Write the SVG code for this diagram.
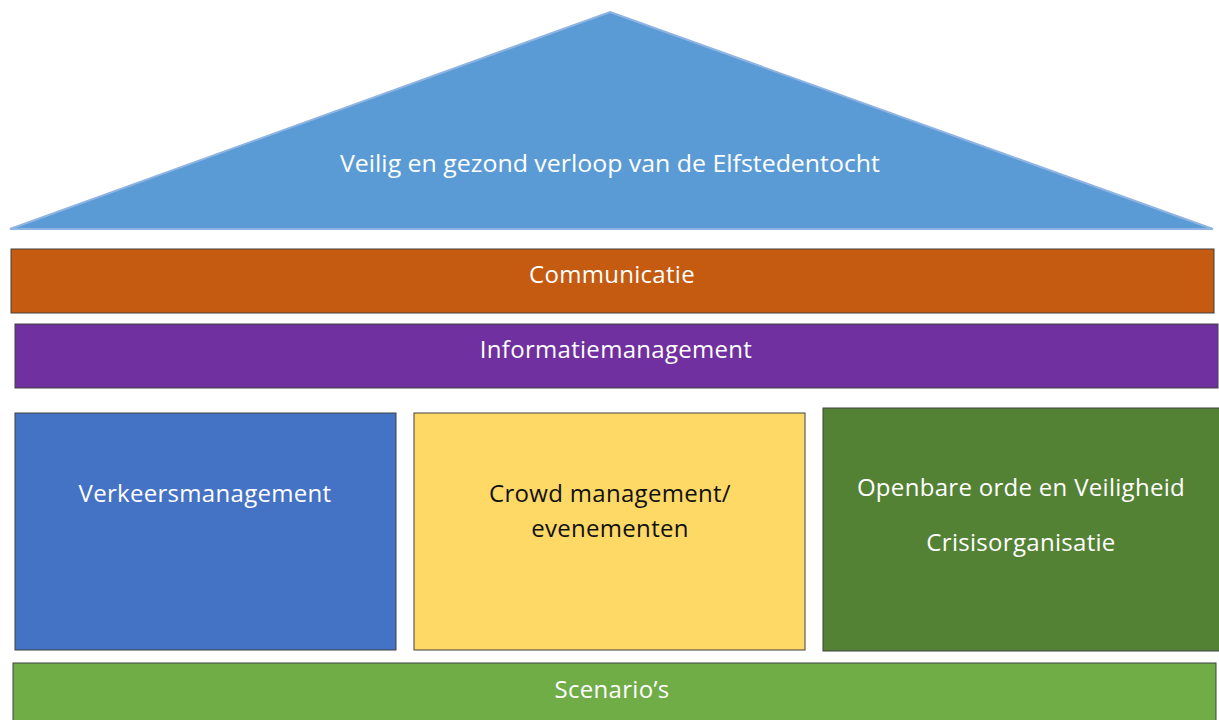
<svg xmlns="http://www.w3.org/2000/svg" width="1219" height="720" viewBox="0 0 1219 720">
<style>
  .box { stroke: #404040; stroke-width: 1; }
  .t { font-family: "Open Sans", "Liberation Sans", sans-serif; font-size: 24px; letter-spacing: 0.3px; text-anchor: middle; fill: #ffffff; }
  .dark { fill: #111111; }
</style>
<rect width="1219" height="720" fill="#ffffff"/>
<g id="roof">
  <polygon points="610,12 1213,229 10,229" fill="#5b9bd5" stroke="#8fb4e3" stroke-width="2"/>
  <text class="t" x="610" y="172" style="font-size:23px;letter-spacing:0" textLength="540" lengthAdjust="spacingAndGlyphs">Veilig en gezond verloop van de Elfstedentocht</text>
</g>
<g id="communicatie">
  <rect class="box" x="11" y="249" width="1203" height="64" fill="#c55a11"/>
  <text class="t" x="612" y="283">Communicatie</text>
</g>
<g id="informatiemanagement">
  <rect class="box" x="15" y="324" width="1203" height="64" fill="#7030a0"/>
  <text class="t" x="616" y="358">Informatiemanagement</text>
</g>
<g id="verkeersmanagement">
  <rect class="box" x="15" y="413" width="381" height="237" fill="#4472c4"/>
  <text class="t" x="205" y="502">Verkeersmanagement</text>
</g>
<g id="crowd">
  <rect class="box" x="414" y="413" width="391" height="237" fill="#ffd966"/>
  <text class="t dark" x="610" y="502">Crowd management/</text>
  <text class="t dark" x="610" y="537">evenementen</text>
</g>
<g id="openbare-orde">
  <rect class="box" x="823" y="408" width="400" height="243" fill="#548235"/>
  <text class="t" x="1021" y="496">Openbare orde en Veiligheid</text>
  <text class="t" x="1021" y="551">Crisisorganisatie</text>
</g>
<g id="scenarios">
  <rect class="box" x="13" y="663" width="1203" height="62" fill="#70ad47"/>
  <text class="t" x="612" y="698">Scenario’s</text>
</g>
<g id="connectors"></g>
</svg>
